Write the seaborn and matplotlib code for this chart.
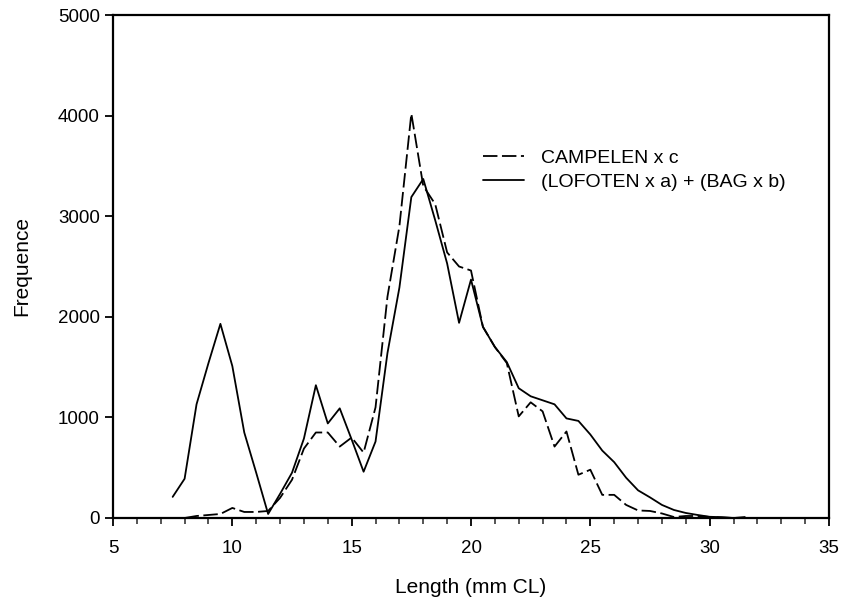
import numpy as np
import pandas as pd
import matplotlib
matplotlib.use("Agg")
import matplotlib.pyplot as plt
import seaborn as sns

# Data
campelen_len = [8, 8.5, 9, 9.5, 10, 10.5, 11, 11.5, 12, 12.5, 13, 13.5, 14, 14.5, 15, 15.5,
                16, 16.5, 17, 17.5, 18, 18.5, 19, 19.5, 20, 20.5, 21, 21.5, 22, 22.5, 23, 23.5,
                24, 24.5, 25, 25.5, 26, 26.5, 27, 27.5, 28, 28.5, 29, 29.5, 30, 30.5, 31, 31.5]
campelen_freq = [0, 20, 30, 40, 100, 60, 60, 70, 200, 380, 690, 850, 850, 710, 800, 650,
                 1100, 2200, 2900, 4020, 3300, 3120, 2640, 2500, 2460, 1900, 1700, 1540, 1010, 1150, 1060, 710,
                 860, 430, 480, 230, 230, 130, 75, 70, 45, 10, 20, 20, 10, 5, 0, 10]

lofbag_len = [7.5, 8, 8.5, 9, 9.5, 10, 10.5, 11, 11.5, 12, 12.5, 13, 13.5, 14, 14.5, 15, 15.5,
              16, 16.5, 17, 17.5, 18, 18.5, 19, 19.5, 20, 20.5, 21, 21.5, 22, 22.5, 23, 23.5,
              24, 24.5, 25, 25.5, 26, 26.5, 27, 27.5, 28, 28.5, 29, 29.5, 30, 30.5, 31]
lofbag_freq = [210, 390, 1130, 1540, 1930, 1510, 850, 450, 40, 240, 450, 790, 1320, 940, 1090, 780, 460,
               760, 1640, 2290, 3190, 3370, 2960, 2530, 1940, 2370, 1900, 1700, 1550, 1290, 1210, 1170, 1130,
               990, 965, 830, 670, 555, 400, 275, 205, 130, 80, 50, 30, 12, 8, 0]

series_labels = ["CAMPELEN x c", "(LOFOTEN x a) + (BAG x b)"]
x_ticks = [5, 10, 15, 20, 25, 30, 35]
y_ticks = [0, 1000, 2000, 3000, 4000, 5000]

df = pd.concat([
    pd.DataFrame({"Length": campelen_len, "Freq": campelen_freq, "Series": series_labels[0]}),
    pd.DataFrame({"Length": lofbag_len, "Freq": lofbag_freq, "Series": series_labels[1]}),
], ignore_index=True)

sns.set_style("ticks")
plt.rcParams['font.family'] = ['Liberation Sans', 'DejaVu Sans']
plt.rcParams['text.color'] = 'black'
plt.rcParams['axes.labelcolor'] = 'black'

fig = plt.figure(figsize=(8.43, 6.05), dpi=100)
ax = fig.add_axes([113/843, (605-518)/605, (829-113)/843, (518-15)/605])

sns.lineplot(data=df, x="Length", y="Freq", hue="Series", style="Series",
             palette={series_labels[0]: "black", series_labels[1]: "black"},
             dashes={series_labels[0]: (8, 2.5), series_labels[1]: ""},
             linewidth=1.3, ax=ax, legend=True, sort=False)

ax.set_xlim(5, 35)
ax.set_ylim(0, 5000)
ax.set_xticks(x_ticks)
ax.set_xticks(np.arange(5, 36, 1), minor=True)
ax.set_yticks(y_ticks)
ax.tick_params(axis='both', which='major', direction='out', length=6, width=1.3,
               labelsize=13.5, colors='black')
ax.tick_params(axis='x', which='minor', direction='out', length=4, width=1.1)
ax.tick_params(axis='x', pad=10)
for s in ax.spines.values():
    s.set_visible(True)
    s.set_linewidth(1.6)
    s.set_color('black')

ax.set_xlabel("Length (mm CL)", fontsize=15, labelpad=15, color='black')
ax.set_ylabel("Frequence", fontsize=15, labelpad=19, color='black')

leg = ax.legend(loc='upper left', bbox_to_anchor=(0.517, 0.733), frameon=False,
                fontsize=14, handlelength=2.1, handletextpad=0.85, labelspacing=0.32,
                borderpad=0, borderaxespad=0)
for t in leg.get_texts():
    t.set_color('black')
for h in leg.get_lines():
    h.set_linewidth(1.3)

fig.savefig("out.png", dpi=100, facecolor='white')
